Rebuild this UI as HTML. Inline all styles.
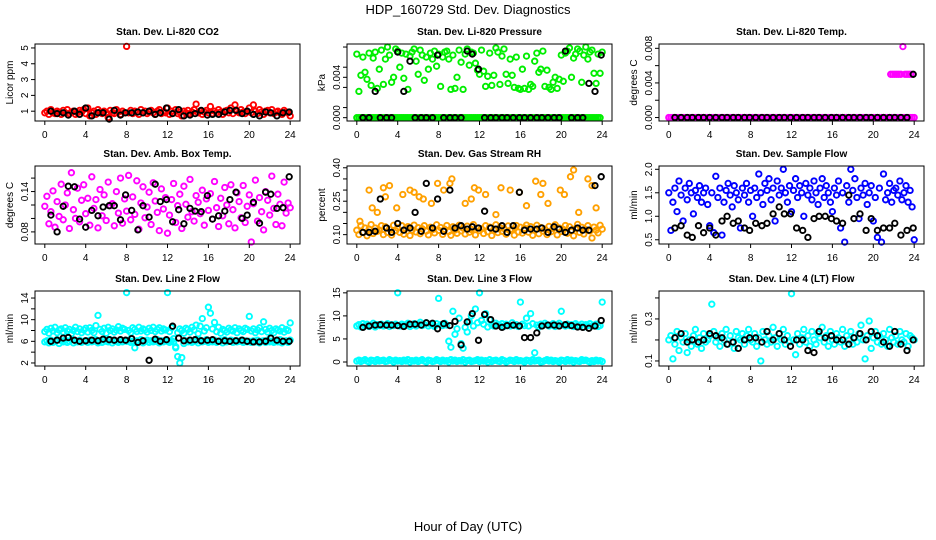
<!DOCTYPE html>
<html><head><meta charset="utf-8">
<style>
html,body{margin:0;padding:0;background:#fff;}
svg{display:block;font-family:"Liberation Sans",Arial,sans-serif;}
</style></head>
<body>
<svg id="chart" width="936" height="540" viewBox="0 0 936 540" xmlns="http://www.w3.org/2000/svg">
<rect width="936" height="540" fill="#fff"/>
<text x="468" y="14" font-size="13" text-anchor="middle">HDP_160729  Std. Dev. Diagnostics</text>
<text x="468" y="531" font-size="13" text-anchor="middle">Hour of Day (UTC)</text>
</svg>
<script>
// ---- data ----
const blackHours=[0.6,1.2,1.8,2.3,2.9,3.4,4.0,4.6,5.2,5.7,6.3,6.8,7.4,7.9,8.5,9.1,9.6,10.2,10.8,11.3,11.9,12.5,13.1,13.6,14.2,14.7,15.3,15.9,16.4,17.0,17.6,18.1,18.7,19.3,19.8,20.4,21.0,21.6,22.1,22.7,23.3,23.9];
const xTicks=[0,4,8,12,16,20,24];
const xTickLabels=["0","4","8","12","16","20","24"];

const co2Red=[0.9,1.0,0.8,1.1,0.9,0.85,1.0,0.95,0.8,1.05,0.9,1.1,0.85,0.95,1.0,0.8,0.9,1.05,0.95,1.1,0.85,
1.2,0.7,0.9,1.0,0.8,1.1,0.95,0.85,1.0,0.9,0.6,1.05,0.9,0.85,1.1,0.95,0.8,1.0,0.9,5.1,
0.9,1.05,0.85,1.0,0.95,0.8,1.1,0.9,1.0,0.85,0.95,1.05,0.9,0.8,1.0,1.1,0.85,0.95,0.9,1.2,
0.8,1.0,0.9,1.1,0.85,0.95,0.7,1.0,0.9,1.05,0.85,0.95,1.1,1.45,0.9,1.0,0.8,0.95,1.05,0.9,
1.3,0.85,1.0,0.9,1.1,0.95,0.8,1.0,1.05,0.9,1.2,0.85,1.4,1.0,0.9,1.1,0.95,0.85,1.0,1.2,
0.9,1.4,1.0,0.85,1.1,0.95,0.8,1.0,1.05,0.9,1.1,0.85,0.95,1.0,0.9,0.8,1.05,0.95,0.9,0.7];
const co2Black=[1.0,0.85,0.9,0.75,1.0,0.8,1.2,0.7,0.9,0.9,0.5,1.05,0.75,0.9,0.9,0.95,0.9,1.0,0.8,0.9,1.2,0.85,1.1,0.7,0.75,0.85,1.05,0.75,0.8,0.8,0.95,1.05,1.05,0.85,1.0,0.8,0.7,0.95,0.9,0.7,0.9,0.95];

const presZero=[0,0,0,0,0,0,0,0,0,0,0,0,0,0,0,0,0,0,0,0,0,0,0,0,0,0,0,0,0,0,0,0,0,0,0,0,0,0,0,0,0,0,0,0,0,0,0,0,0,0,0,0,0,0,0,0,0,0,0,0,0,0,0,0,0,0,0,0,0,0,0,0,0,0,0,0,0,0,0,0,0,0,0,0,0,0,0,0,0,0,0,0,0,0,0,0,0,0,0,0,0,0,0,0,0,0,0,0,0,0,0,0,0,0,0,0,0,0,0,0];
const presGreen=[6.3,2.6,4.2,6.0,4.5,3.8,6.4,3.2,5.9,6.5,2.9,4.8,6.7,3.3,5.8,7.0,6.2,3.5,4.0,6.8,6.6,
5.0,6.4,3.9,6.3,2.8,6.1,6.5,6.8,5.6,4.3,6.7,6.2,3.7,6.0,4.8,6.4,5.8,6.6,5.1,6.3,
3.1,6.0,6.5,6.6,5.8,2.8,6.2,2.9,4.0,6.7,5.5,2.8,6.3,6.8,5.2,6.5,6.4,5.4,4.7,4.3,
6.7,4.6,3.1,4.1,6.4,3.2,4.2,6.9,6.5,3.3,6.1,6.8,4.3,3.4,5.8,4.2,3.0,6.0,2.9,2.8,
4.8,2.9,6.1,2.8,3.3,3.1,5.6,6.4,4.5,4.8,6.6,3.1,4.7,3.0,2.8,3.5,4.0,2.9,3.8,6.2,
3.6,6.4,6.6,6.9,4.0,5.9,6.3,6.8,6.6,3.5,6.2,7.0,5.8,6.5,6.7,4.4,3.4,6.3,4.4,6.5];
const presBlack=[0,0,2.6,0,0,0,6.5,2.6,5.6,0,0,0,0,6.2,0,0,0,0,6.6,6.3,4.8,0,0,0,0,0,0,0,0,0,0,0,0,0,0,6.6,0,0,0,3.4,2.6,6.2];

const tempMagenta=[0,0,0,0,0,0,0,0,0,0,0,0,0,0,0,0,0,0,0,0,0,0,0,0,0,0,0,0,0,0,0,0,0,0,0,0,0,0,0,0,0,0,0,0,0,0,0,0,0,0,0,0,0,0,0,0,0,0,0,0,0,0,0,0,0,0,0,0,0,0,0,0,0,0,0,0,0,0,0,0,0,0,0,0,0,0,0,0,0,0,0,0,0,0,0,0,0,0,0,0,0,0,0,0,0,0,0,0,0,0,0,0,0,0,0,0,0,0,0,0,0];
const tempHighHours=[21.7,21.9,22.1,22.3,22.5,22.7,22.9,23.1,23.3,23.5,23.7];
const tempHigh=[5,5,5,5,5,5,8.2,5,5,5,5];
const tempBlack=[0,0,0,0,0,0,0,0,0,0,0,0,0,0,0,0,0,0,0,0,0,0,0,0,0,0,0,0,0,0,0,0,0,0,0,0,0,0,0,0,0,5.0];

const ambMagenta=[11.8,13.3,9.2,11.0,14.1,8.7,12.5,10.3,15.1,9.8,12.0,13.8,8.5,16.8,11.3,10.0,14.5,9.5,12.7,15.0,10.7,
13.0,9.0,16.2,11.5,12.8,8.6,14.3,10.4,13.5,9.7,15.4,11.9,12.2,8.9,14.0,10.8,16.0,9.3,12.9,11.1,
16.4,9.8,13.2,10.6,15.6,8.4,12.3,14.7,10.1,11.7,13.9,9.1,15.3,12.6,10.9,8.2,14.4,11.4,13.1,7.8,
10.5,12.8,15.2,9.4,11.9,13.6,8.5,14.8,12.1,10.2,15.8,11.0,9.6,13.4,12.4,10.7,14.2,9.0,12.9,11.2,
13.7,9.9,15.5,11.6,8.8,13.0,10.4,14.6,12.0,9.2,15.0,11.3,8.6,13.8,12.5,10.1,14.9,9.4,11.8,13.5,
6.5,12.2,15.7,9.6,13.1,11.0,8.3,14.0,12.7,10.5,16.3,11.5,9.1,13.6,12.1,8.9,15.4,10.8,12.3,11.6];
const ambBlack=[10.5,8.0,11.8,14.8,14.7,9.9,8.7,11.2,10.4,11.7,11.9,11.9,9.8,13.5,11.2,8.3,11.9,10.2,15.1,12.5,12.8,9.5,11.3,9.2,11.5,11.1,11.0,13.4,9.9,10.4,11.1,12.8,13.9,10.0,10.5,12.4,9.3,13.9,13.6,11.5,11.6,16.2];

const rhOrange=[12,10,14,11,13,9.5,12.5,14.5,10.5,13,11.5,12,14,10,13.5,11,12.5,9.8,14.2,11.8,13,
11,14,10.2,12.8,13.6,9.6,12,14.3,11.2,13.1,10.4,12.6,14,11.6,9.9,13.3,12.2,10.8,14.4,11.9,
13.2,10.1,12.4,14.1,11.4,9.7,13.5,12.1,10.6,14.2,11.7,12.9,10.3,13.8,11.1,12.3,14.5,9.9,13,11.8,
12.6,10.5,14,11.3,13.4,9.6,12.2,14.4,10.9,13.1,11.5,12.7,10.2,13.9,11.9,12.4,9.8,14.1,11.2,13.3,
10.7,12.9,14.3,11.1,13.6,9.7,12.1,14.2,10.4,13.2,11.6,12.5,10,13.7,11.3,12.8,14.4,9.9,13,11.4,
12.3,14.1,10.6,13.5,11.8,9.5,12.7,14.6,11,13.3,10.3,12.2,14,11.7,8.5,13.4,12,10.8,14.2,12.5];
const rhScatterHours=[0.3,1.2,1.5,2.0,2.6,2.8,3.2,3.9,4.5,5.2,5.6,6.1,6.5,7.3,7.9,8.5,9.1,9.3,10.6,11.2,11.5,11.9,12.6,13.6,14.1,15.0,15.9,16.6,17.5,18.0,18.2,18.7,19.9,20.3,20.9,21.2,21.7,22.6,23.0,23.4];
const rhScatter=[16,30,22,20,31,27,32,22,28,30,29,27,26,24,33,30,33,35,24,26,31,30,28,19,31,30,29,23,34,28,33,24,30,28,36,39,20,35,32,22];
const rhBlack=[11,11,11.5,26,13,11,15,12,13,20,11.5,33,13,26,11.5,30,13,14,12.5,13.5,13,20.5,13,12.5,14,11,14,29,12,12.5,12.5,13,11,13.5,12.5,11,12,13,12,12,32,36];

const flowBlue=[1.5,0.7,1.3,1.6,1.1,1.75,1.45,0.9,1.6,1.35,1.7,1.5,1.05,1.55,1.4,1.65,1.3,1.5,1.6,1.25,0.8,
1.5,0.65,1.85,1.4,1.6,0.6,1.3,1.55,1.7,1.45,1.2,1.65,1.5,1.35,0.75,1.6,1.45,1.7,1.3,1.55,
1.0,1.6,1.4,1.9,1.5,1.25,1.7,1.55,1.8,1.35,1.6,0.9,1.75,1.45,1.6,2.0,1.5,1.3,1.65,1.1,
1.55,1.8,1.4,1.65,1.5,1.0,1.7,1.45,1.6,1.35,1.75,1.5,1.25,1.6,1.8,1.4,1.65,1.5,1.3,1.1,
1.6,1.45,1.75,0.75,1.5,0.45,1.65,1.3,2.0,1.55,1.8,1.4,0.95,1.6,1.45,1.7,1.25,1.5,1.65,0.9,
1.4,0.55,1.6,0.45,1.9,1.35,1.5,1.7,1.3,1.55,1.6,1.45,1.75,1.35,1.5,1.65,1.3,1.55,1.2,0.5];
const flowBlack=[0.75,0.8,0.6,0.55,0.8,0.65,0.75,0.6,0.9,1.0,0.85,0.9,0.75,0.7,0.85,0.8,0.85,1.05,1.2,1.05,1.05,0.75,0.7,0.55,0.95,1.0,1.0,0.95,0.9,0.85,1.45,0.95,1.05,0.7,0.95,0.7,0.75,0.75,0.85,0.6,0.7,0.75];

const line2Upper=[7.8,8.2,7.5,8.4,7.9,8.6,7.6,8.1,8.3,7.7,8.5,7.9,8.2,7.4,8.0,8.6,7.8,8.3,7.6,8.1,8.4,
7.7,8.5,8.0,7.6,8.9,10.8,8.2,7.8,8.4,7.5,8.6,8.0,8.3,7.7,8.1,8.7,7.9,8.4,8.2,15.0,
8.0,7.6,8.5,8.2,7.8,8.6,7.9,8.3,8.1,7.7,8.4,8.0,8.6,7.8,8.2,8.5,7.9,8.3,8.1,15.0,
7.8,8.5,6.5,4.8,7.6,8.3,8.0,7.5,8.4,8.2,7.7,8.6,8.1,9.0,7.4,8.8,10.2,7.9,8.5,12.3,
11.2,8.3,9.5,7.8,8.6,7.5,8.2,8.0,7.7,8.4,8.1,7.9,8.5,7.6,8.3,8.0,7.8,8.4,8.2,10.6,
7.9,8.3,7.6,8.1,8.5,7.8,9.6,8.2,7.7,8.4,8.0,7.6,8.3,8.1,7.9,8.5,7.7,8.2,8.0,9.4];
const line2Lower=[5.9,6.1,5.7,6.2,5.8,6.0,6.3,5.6,6.1,5.9,6.2,5.8,6.0,6.3,5.7,6.1,5.9,6.2,5.8,6.0,6.1,
5.8,6.2,5.9,6.0,6.3,5.7,6.1,5.8,6.2,6.0,5.9,6.3,5.7,6.1,6.0,5.8,6.2,5.9,6.1,6.0,
6.2,5.8,6.0,4.8,6.1,5.9,6.3,5.7,6.0,6.2,5.8,6.1,5.9,6.0,6.3,5.7,6.1,5.9,6.2,6.0,
5.8,6.1,5.9,5.0,3.2,2.0,3.0,5.6,6.1,5.9,6.2,5.8,6.0,6.1,5.7,6.2,5.9,6.0,6.3,5.8,
6.1,5.9,6.2,5.8,6.0,6.1,5.7,6.3,5.9,6.0,6.2,5.8,6.1,5.9,6.0,6.2,5.8,6.1,5.9,6.0,
5.8,6.1,5.9,6.2,5.7,6.0,6.1,5.8,6.2,5.9,6.0,5.8,6.1,5.9,6.3,5.7,6.0,6.1,5.8,6.2];
const line2Black=[6.0,6.2,6.6,6.7,6.2,6.0,6.1,6.2,6.1,6.4,6.3,6.2,6.3,6.2,6.5,5.8,6.1,2.5,6.4,6.0,6.3,8.8,6.6,6.1,6.2,6.3,6.1,6.2,6.3,6.0,6.1,6.0,6.1,6.2,6.0,5.9,5.9,6.0,6.6,6.2,6.0,6.0];

const line3Upper=[7.8,8.1,7.6,8.3,7.9,8.2,7.7,8.0,8.4,7.6,8.1,7.9,8.2,7.8,8.0,8.3,7.7,8.1,7.9,8.2,15.0,
7.8,8.2,7.9,8.1,8.4,7.7,8.0,8.3,7.8,8.2,8.6,7.9,8.1,8.5,7.8,8.2,8.0,7.7,8.3,13.8,
8.1,7.9,8.4,8.0,4.5,3.2,11.0,6.0,7.2,9.5,4.0,3.0,7.5,6.5,8.8,10.0,7.8,11.5,8.5,15.0,
9.0,8.2,10.5,7.6,9.2,8.0,7.8,8.4,8.1,7.9,8.3,7.7,8.2,8.0,7.8,8.5,7.9,8.1,7.7,13.0,
8.2,7.9,9.5,7.8,10.5,8.3,2.0,8.0,7.6,8.2,7.9,8.4,8.1,7.8,8.0,8.3,7.7,8.1,8.4,11.0,
8.0,7.8,8.2,7.9,8.1,7.7,8.3,8.0,7.8,8.2,7.6,8.1,7.9,8.3,7.8,8.0,8.2,7.7,7.9,13.0];
const line3Lower=[0.2,0.4,0.1,0.3,0.5,0.2,0.0,0.4,0.3,0.1,0.5,0.2,0.3,0.4,0.1,0.2,0.5,0.3,0.0,0.4,0.2,
0.3,0.1,0.4,0.2,0.5,0.0,0.3,0.2,0.4,0.1,0.3,0.5,0.2,0.0,0.4,0.3,0.1,0.2,0.5,0.3,
0.1,0.4,0.2,0.3,0.0,0.5,0.2,0.4,0.1,0.3,0.2,0.5,0.0,0.3,0.4,0.1,0.2,0.3,0.5,0.1,
0.4,0.2,0.3,0.0,0.5,0.1,0.3,0.4,0.2,0.1,0.5,0.3,0.0,0.2,0.4,0.3,0.1,0.5,0.2,0.3,
0.2,0.0,0.4,0.3,0.1,0.5,0.2,0.3,0.4,0.0,0.1,0.3,0.5,0.2,0.4,0.1,0.3,0.2,0.0,0.4,
0.3,0.1,0.5,0.2,0.4,0.0,0.3,0.2,0.1,0.5,0.3,0.4,0.2,0.0,0.3,0.1,0.4,0.2,0.3,0.1];
const line3Black=[7.5,7.8,8.0,8.1,8.0,8.0,7.9,7.7,8.2,8.2,8.0,8.5,8.4,7.2,8.3,7.9,8.8,3.7,8.7,10.5,4.7,10.3,9.2,7.8,7.5,7.9,8.0,7.8,5.3,5.3,6.3,7.8,8.0,8.0,7.8,8.1,7.9,7.6,7.5,7.3,7.8,9.0];

const line4Cyan=[20,22,11,18,24,15,21,19,23,14,20,17,22,25,18,21,16,23,19,20,22,
37,24,19,21,17,23,20,25,18,22,19,16,24,21,20,23,18,22,25,20,
19,23,17,21,10,24,20,18,22,19,26,21,17,23,20,25,18,22,19,42,
20,13,23,18,21,25,19,22,17,24,20,18,23,21,26,19,22,17,24,20,
18,23,21,19,25,17,22,20,24,18,21,19,23,27,20,11,22,29,16,21,
24,19,22,18,23,20,17,25,21,19,22,18,24,20,19,23,17,22,21,20];
const line4Black=[21,23,19,20,19,20,23,22,21,18,19,16,20,21,21,19,24,20,23,20,17,20,20,15,14,24,21,22,20,20,18,21,23,20,24,22,19,17,24,18,15,20];

// common sample hours (every 0.2 h)
const hours=[];
for(let i=0;i<=120;i++) hours.push(Math.round(i*2)/10);

// ---- layout ----
const colX=[35,347,659], PW=265;
const rowTop=[44,166,291], rowBot=[121,244,366];
const XMIN=-0.96, XMAX=24.96;
const NS="http://www.w3.org/2000/svg";
const svg=document.getElementById('chart');
function mk(tag,attrs,parent){const e=document.createElementNS(NS,tag);for(const k in attrs)e.setAttribute(k,attrs[k]);(parent||svg).appendChild(e);return e;}

const panels=[
 {t:"Stan. Dev. Li-820 CO2",yl:"Licor ppm",ylim:[0.38,5.25],ticks:[1,2,3,4,5],tl:["1","2","3","4","5"],
  s:[[hours,co2Red,"#ff0000"],[blackHours,co2Black,"#000"]]},
 {t:"Stan. Dev. Li-820 Pressure",yl:"kPa",ylim:[-0.33,7.3],ticks:[0,1,3,4,5,7],tl:["0.000","","","0.004","",""],
  s:[[hours,presZero,"#00ee00"],[hours,presGreen,"#00ee00"],[blackHours,presBlack,"#000"]]},
 {t:"Stan. Dev. Li-820 Temp.",yl:"degrees C",ylim:[-0.4,8.5],ticks:[0,2,4,6,8],tl:["0.000","","0.004","","0.008"],
  s:[[hours,tempMagenta,"#ff00ff"],[tempHighHours,tempHigh,"#ff00ff"],[blackHours,tempBlack,"#000"]]},
 {t:"Stan. Dev. Amb. Box Temp.",yl:"degrees C",ylim:[6.2,17.8],ticks:[8,10,12,14,16],tl:["0.08","","","0.14",""],
  s:[[hours,ambMagenta,"#ff00ff"],[blackHours,ambBlack,"#000"]]},
 {t:"Stan. Dev. Gas Stream RH",yl:"percent",ylim:[5.8,40.8],ticks:[10,15,20,25,30,35,40],tl:["0.10","","","0.25","","","0.40"],
  s:[[hours,rhOrange,"#ffa000"],[rhScatterHours,rhScatter,"#ffa000"],[blackHours,rhBlack,"#000"]]},
 {t:"Stan. Dev. Sample Flow",yl:"ml/min",ylim:[0.41,2.07],ticks:[0.5,1.0,1.5,2.0],tl:["0.5","1.0","1.5","2.0"],
  s:[[hours,flowBlue,"#0000ff"],[blackHours,flowBlack,"#000"]]},
 {t:"Stan. Dev. Line 2 Flow",yl:"ml/min",ylim:[1.44,15.3],ticks:[2,4,6,8,10,12,14],tl:["2","","6","","10","","14"],
  s:[[hours,line2Upper,"#00ffff"],[hours,line2Lower,"#00ffff"],[blackHours,line2Black,"#000"]]},
 {t:"Stan. Dev. Line 3 Flow",yl:"ml/min",ylim:[-0.87,15.4],ticks:[0,5,10,15],tl:["0","5","10","15"],
  s:[[hours,line3Upper,"#00ffff"],[hours,line3Lower,"#00ffff"],[blackHours,line3Black,"#000"]]},
 {t:"Stan. Dev. Line 4 (LT) Flow",yl:"ml/min",ylim:[7.6,43.3],ticks:[10,20,30,40],tl:["0.1","","0.3",""],
  s:[[hours,line4Cyan,"#00ffff"],[blackHours,line4Black,"#000"]]}
];

panels.forEach((p,i)=>{
  const r=Math.floor(i/3);
  const L=colX[i%3], T=rowTop[r], B=rowBot[r], PH=B-T;
  const g=mk('g',{});
  
  
  const xs=v=>L+(v-XMIN)/(XMAX-XMIN)*PW;
  const ys=v=>B-(v-p.ylim[0])/(p.ylim[1]-p.ylim[0])*PH;
  const tt=mk('text',{x:L+PW/2,y:T-9,'font-size':10,'font-weight':'bold','text-anchor':'middle'},g);
  tt.textContent=p.t;
  
  
  const pg=mk('g',{fill:'none','stroke-width':1.9},g);
  
  
  p.s.forEach(([xa,ya,c])=>{
    for(let k=0;k<ya.length&&k<xa.length;k++){
      const cy=ys(ya[k]);
      if(cy<T-2||cy>B+2) continue;
      const pt=mk('circle',{cx:xs(xa[k]).toFixed(1),cy:cy.toFixed(1),r:2.7,stroke:c},pg);
      
      
    }
  });
  const box=mk('rect',{x:L,y:T,width:PW,height:PH,fill:'none',stroke:'#000','stroke-width':1},g);
  
  
  xTicks.forEach((v,k)=>{
    const x=xs(v);
    const tk=mk('line',{x1:x,x2:x,y1:B,y2:B+4,stroke:'#000'},g);
    
    
    const lb=mk('text',{x:x,y:B+17,'font-size':10,'text-anchor':'middle'},g);
    lb.textContent=xTickLabels[k];
    
    
  });
  p.ticks.forEach((v,k)=>{
    const y=ys(v);
    const tk=mk('line',{x1:L-4,x2:L,y1:y,y2:y,stroke:'#000'},g);
    
    
    if(p.tl[k]){
      const lb=mk('text',{x:0,y:0,'font-size':10,'text-anchor':'middle',transform:`translate(${L-7},${y}) rotate(-90)`},g);
      lb.textContent=p.tl[k];
      
      
    }
  });
  const yl=mk('text',{x:0,y:0,'font-size':10,'text-anchor':'middle',transform:`translate(${L-22},${T+PH/2}) rotate(-90)`},g);
  yl.textContent=p.yl;
  
  
});
</script>
</body></html>
